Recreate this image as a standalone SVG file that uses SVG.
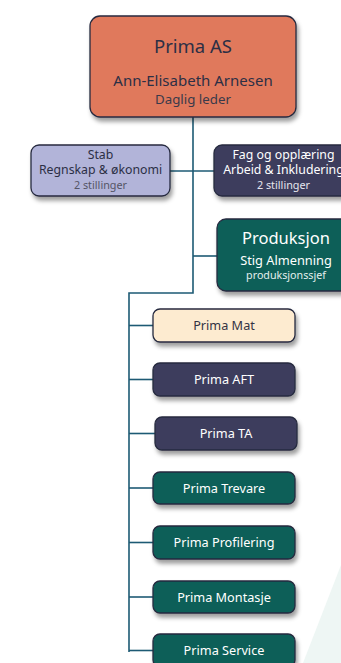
<svg xmlns="http://www.w3.org/2000/svg" width="341" height="663" viewBox="0 0 341 663">
<defs>
<filter id="sh" x="-20%" y="-20%" width="140%" height="160%">
<feDropShadow dx="2" dy="4" stdDeviation="2.2" flood-color="#000" flood-opacity="0.38"/>
</filter>
<style>
text{font-family:"Noto Sans","Open Sans",sans-serif;text-anchor:middle}
.box{stroke:#262a3f;stroke-width:1.3;filter:url(#sh)}
.con{fill:none;stroke:#1d5a74;stroke-width:1.6}
.dark{fill:#2c2f45}
.light{fill:#ffffff}
.child{font-size:12.7px}
</style>
</defs>
<rect width="341" height="663" fill="#ffffff"/>
<polygon points="341,565 341,663 303,663" fill="#eef6f4"/>
<g id="connectors" class="con">
<path d="M193,117 V293 H129 V652"/>
<path d="M170,171 H214"/>
<path d="M193,256 H217"/>
<path d="M129,325.5 H153"/>
<path d="M129,379.5 H153"/>
<path d="M129,433.5 H155"/>
<path d="M129,488 H153"/>
<path d="M129,542.5 H153"/>
<path d="M129,597 H153"/>
<path d="M129,650.5 H153"/>
</g>
<g id="prima-as">
<rect class="box" x="90" y="16" width="206" height="101" rx="10" fill="#e0795c"/>
<text x="193" y="53" font-size="18.5" class="dark">Prima AS</text>
<text x="193" y="86" font-size="15" class="dark">Ann-Elisabeth Arnesen</text>
<text x="193" y="104" font-size="13.3" fill="#3a3a4a">Daglig leder</text>
</g>
<g id="stab">
<rect class="box" x="31" y="145" width="139" height="51" rx="8" fill="#b2b4d9"/>
<text x="100.5" y="158.5" font-size="12.3" class="dark">Stab</text>
<text x="100.5" y="174" font-size="12.3" class="dark">Regnskap &amp; økonomi</text>
<text x="100.5" y="188.5" font-size="10.8" fill="#555566">2 stillinger</text>
</g>
<g id="fag">
<rect class="box" x="214" y="145" width="139" height="51" rx="8" fill="#3d3e5d"/>
<text x="283.5" y="158.5" font-size="12.3" class="light">Fag og opplæring</text>
<text x="283.5" y="174" font-size="12.3" class="light">Arbeid &amp; Inkludering</text>
<text x="283.5" y="188.5" font-size="10.8" fill="#e6e6ee">2 stillinger</text>
</g>
<g id="produksjon">
<rect class="box" x="217" y="219" width="139" height="72" rx="9" fill="#0e5e59"/>
<text x="286" y="244" font-size="16.5" class="light">Produksjon</text>
<text x="286" y="265" font-size="12.8" class="light">Stig Almenning</text>
<text x="286" y="279" font-size="10.7" fill="#e3efee">produksjonssjef</text>
</g>
<g id="prima-mat">
<rect class="box" x="153" y="309" width="142" height="33" rx="7" fill="#fdebd0"/>
<text x="224" y="330" class="child" fill="#333344">Prima Mat</text>
</g>
<g id="prima-aft">
<rect class="box" x="153" y="363" width="142" height="33" rx="7" fill="#3d3e5d"/>
<text x="224" y="384" class="child light">Prima AFT</text>
</g>
<g id="prima-ta">
<rect class="box" x="155" y="417" width="142" height="33" rx="7" fill="#3d3e5d"/>
<text x="226" y="438" class="child light">Prima TA</text>
</g>
<g id="prima-trevare">
<rect class="box" x="153" y="472" width="142" height="32" rx="7" fill="#0e5e59"/>
<text x="224" y="492.5" class="child light">Prima Trevare</text>
</g>
<g id="prima-profilering">
<rect class="box" x="153" y="526" width="142" height="33" rx="7" fill="#0e5e59"/>
<text x="224" y="547" class="child light">Prima Profilering</text>
</g>
<g id="prima-montasje">
<rect class="box" x="153" y="581" width="142" height="32" rx="7" fill="#0e5e59"/>
<text x="224" y="601.5" class="child light">Prima Montasje</text>
</g>
<g id="prima-service">
<rect class="box" x="153" y="634" width="142" height="33" rx="7" fill="#0e5e59"/>
<text x="224" y="655" class="child light">Prima Service</text>
</g>
</svg>
